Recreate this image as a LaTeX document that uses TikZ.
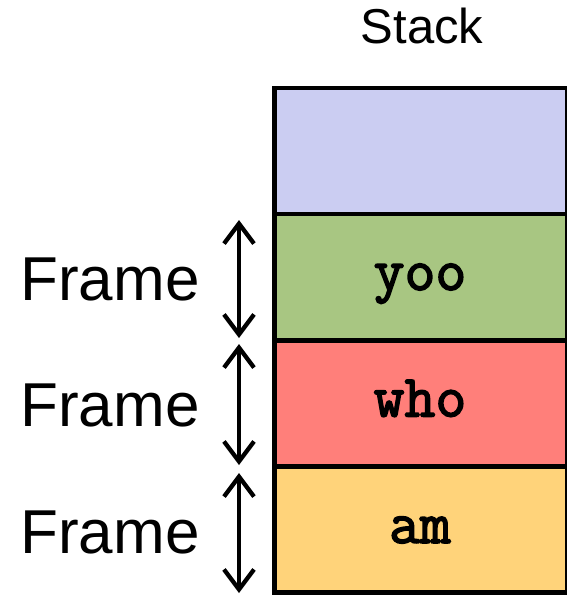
\documentclass[tikz,border=0pt]{standalone}
\usepackage{fontspec}
\setmainfont{Liberation Sans}
\newfontfamily\monofnt[FakeBold=2.5]{Latin Modern Mono}
\usetikzlibrary{arrows.meta}
\definecolor{slav}{RGB}{203,205,242}
\definecolor{sgreen}{RGB}{168,198,130}
\definecolor{sred}{RGB}{255,127,122}
\definecolor{syellow}{RGB}{255,211,122}
\tikzset{
  cell/.style={draw=black, line width=4.5pt, rectangle, minimum width=293pt, minimum height=126pt, inner sep=0pt, outer sep=0pt},
  celltext/.style={anchor=base, inner sep=0pt, font=\monofnt\fontsize{60}{66}\selectfont},
  framelbl/.style={inner sep=0pt, font=\fontsize{62}{70}\selectfont},
  sizearrow/.style={line width=4.3pt, {Straight Barb[length=20pt,width=30pt]}-{Straight Barb[length=20pt,width=30pt]}}
}
\begin{document}
\begin{tikzpicture}[x=1pt,y=-1pt]
\useasboundingbox (0,0) rectangle (566,595);
% stack cells
\node[cell, fill=slav] (c0) at (421,151) {};
\node[cell, fill=sgreen] (c1) at (421,277) {};
\node[cell, fill=sred] (c2) at (421,403.5) {};
\node[cell, fill=syellow] (c3) at (421,529.5) {};
\node[cell] at (421,151) {};
\node[cell] at (421,277) {};
\node[cell] at (421,403.5) {};
% cell texts
\node[celltext] (t1) at (420,290) {yoo};
\node[celltext] (t2) at (420,416.5) {who};
\node[celltext] (t3) at (420,543) {am};
% title
\node[anchor=base, inner sep=0pt, font=\fontsize{49}{56}\selectfont] (title) at (422,43) {Stack};
% frame labels
\node[framelbl] (f1) at (110,279) {Frame};
\node[framelbl] (f2) at (110,405) {Frame};
\node[framelbl] (f3) at (110,532) {Frame};
% arrows
\coordinate (a1t) at (239,220);
\coordinate (a1b) at (239,338);
\coordinate (a2t) at (239,344);
\coordinate (a2b) at (239,465);
\coordinate (a3t) at (239,473);
\coordinate (a3b) at (239,593);
\draw[sizearrow] (a1t) -- (a1b);
\draw[sizearrow] (a2t) -- (a2b);
\draw[sizearrow] (a3t) -- (a3b);
\end{tikzpicture}
\end{document}
